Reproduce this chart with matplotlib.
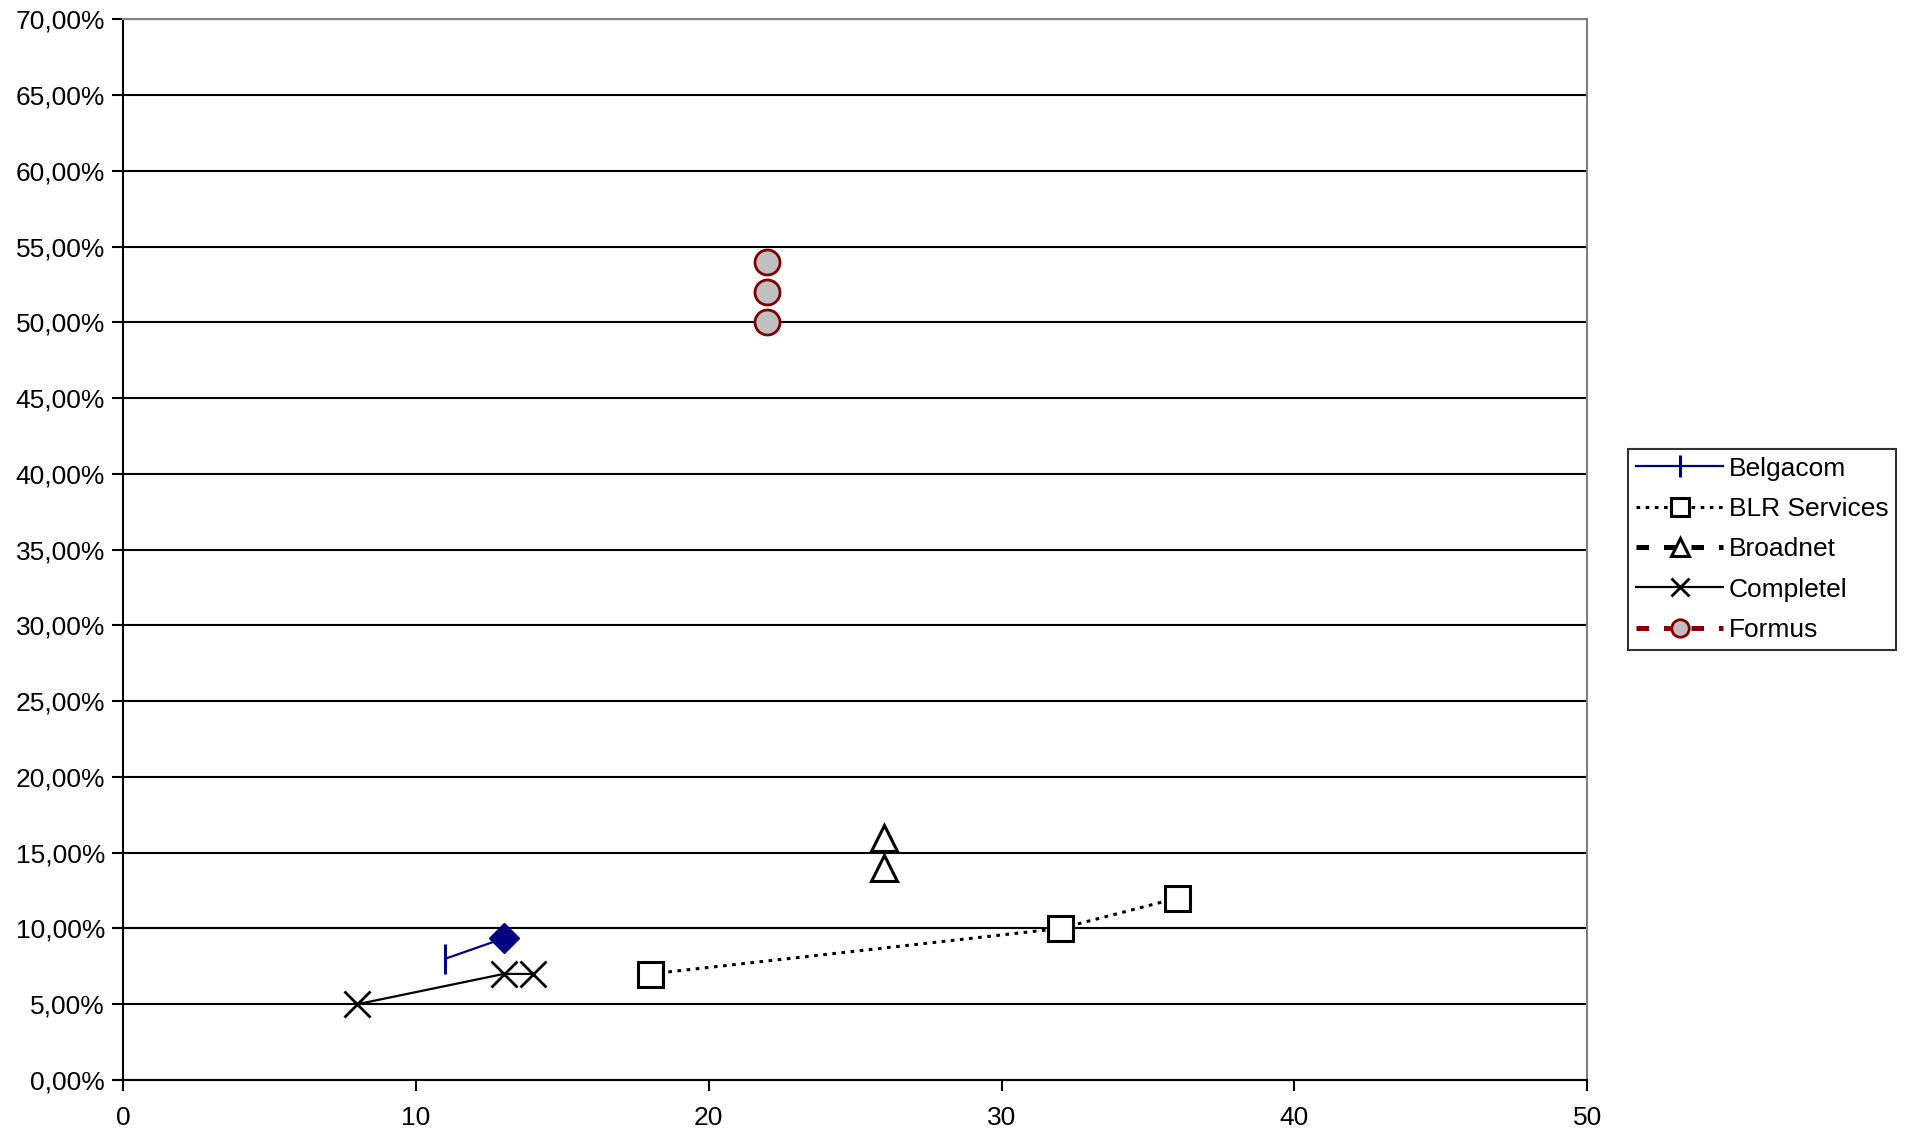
import matplotlib.pyplot as plt
from matplotlib.ticker import FuncFormatter, MultipleLocator

plt.rcParams["font.family"] = ["Liberation Sans", "DejaVu Sans"]

# values (x: units, y: percent)
belgacom_x = [11, 13]
belgacom_y = [8.0, 9.35]
blr_x = [18, 32, 36]
blr_y = [7.0, 10.0, 12.0]
broadnet_x = [26, 26]
broadnet_y = [16.0, 14.0]
completel_x = [8, 13, 14]
completel_y = [5.0, 7.0, 7.0]
formus_x = [22, 22, 22]
formus_y = [54.0, 52.0, 50.0]

NAVY = "#000080"
DARKRED = "#800000"


def pct(v, _pos):
    return f"{v:.2f}%".replace(".", ",")


fig = plt.figure(figsize=(19.1, 11.36), dpi=100)
ax = fig.add_axes([0.0644, 0.0493, 0.7666, 0.9337])

ax.plot(belgacom_x, belgacom_y, color=NAVY, lw=1.6, marker="|", markevery=[0],
        ms=22, mew=2.2, label="Belgacom", zorder=4)
# last Belgacom point is drawn as a filled diamond in the original
ax.plot(belgacom_x[-1:], belgacom_y[-1:], ls="none", marker="D", ms=15,
        color=NAVY, zorder=5)
ax.plot(blr_x, blr_y, color="black", lw=2.2, ls=(0, (1.2, 1.8)), marker="s",
        ms=18, mfc="white", mec="black", mew=2.2, label="BLR Services", zorder=4)
ax.plot(broadnet_x, broadnet_y, color="black", lw=3.6, ls=(0, (2.5, 3)), marker="^",
        ms=19, mfc="white", mec="black", mew=2.2, label="Broadnet", zorder=4)
ax.plot(completel_x, completel_y, color="black", lw=1.6, marker="x",
        ms=19, mew=2, label="Completel", zorder=4)
ax.plot(formus_x, formus_y, color=DARKRED, lw=3.6, ls=(0, (2.5, 3)), marker="o",
        ms=18, mfc="#C0C0C0", mec=DARKRED, mew=2, label="Formus", zorder=4)

ax.set_xlim(0, 50)
ax.set_ylim(0, 70)
ax.xaxis.set_major_locator(MultipleLocator(10))
ax.yaxis.set_major_locator(MultipleLocator(5))
ax.yaxis.set_major_formatter(FuncFormatter(pct))
ax.grid(axis="y", color="black", lw=1.5, zorder=1)
ax.set_axisbelow(True)

for side in ("top", "right"):
    ax.spines[side].set_color("#808080")
    ax.spines[side].set_linewidth(1.5)
for side in ("left", "bottom"):
    ax.spines[side].set_color("black")
    ax.spines[side].set_linewidth(1.5)

ax.tick_params(direction="out", length=8, width=1.5, labelsize=19, pad=5)
ax.tick_params(axis="x", pad=11)

leg = fig.legend(loc="center left", bbox_to_anchor=(0.8525, 0.5165), fontsize=19,
                 frameon=True, fancybox=False, edgecolor="black", handlelength=3.3,
                 borderpad=0.3, labelspacing=0.62, handletextpad=0.2,
                 borderaxespad=0, markerscale=0.7)
leg.get_frame().set_linewidth(1.5)

fig.savefig("out.png", dpi=100)
